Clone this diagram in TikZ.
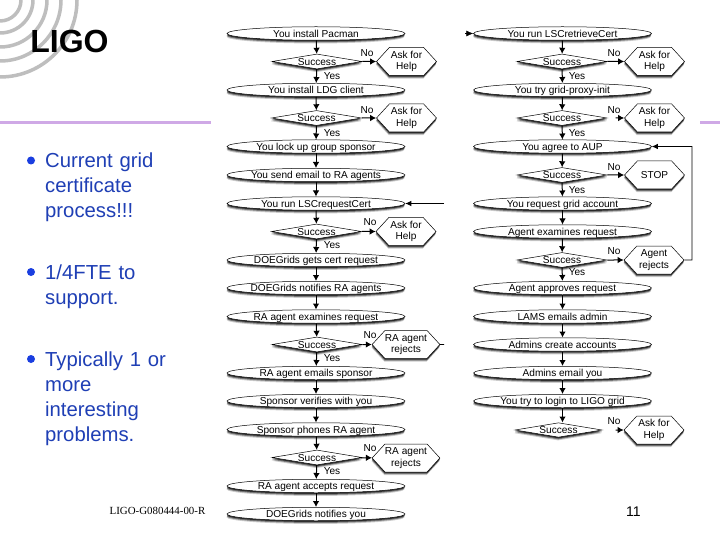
\documentclass[tikz,border=0pt]{standalone}
\usepackage{fontspec}
\setmainfont{Liberation Sans}
\newfontfamily\timesfnt{Liberation Serif}
\usetikzlibrary{shapes.geometric,shapes.symbols,shadows,arrows.meta}
\definecolor{rulec}{HTML}{CFA9E6}
\definecolor{bodyc}{HTML}{1F3FB5}
\definecolor{bulc}{HTML}{1A3EE0}
\definecolor{arcc}{HTML}{BEBEBE}
\tikzset{
  x=1pt,y=-1pt,
  shad/.style={general shadow={shadow xshift=-.5pt,shadow yshift=-3.2pt,fill=black,opacity=.2},
               general shadow={shadow xshift=-.3pt,shadow yshift=-2.2pt,fill=black,opacity=.4},
               general shadow={shadow xshift=0pt,shadow yshift=-1.2pt,fill=black,opacity=.6}},
  ell/.style={ellipse,draw=black,line width=.5pt,fill=white,shad,minimum width=178pt,minimum height=13.5pt,inner xsep=-30pt,inner ysep=-4pt,text height=7.2pt,text depth=0pt,font=\fontsize{10.1}{11}\selectfont},
  dia/.style={diamond,aspect=6,draw=black,line width=.5pt,fill=white,shad,minimum width=90pt,minimum height=15pt,inner sep=0pt,text height=7.2pt,text depth=0pt,font=\fontsize{10.1}{11}\selectfont},
  hexa/.style={signal,signal to=east and west,signal pointer angle=95,draw=black,line width=.5pt,fill=white,shad,minimum width=60pt,minimum height=28pt,inner sep=0pt,align=center,font=\fontsize{10.1}{11.5}\selectfont},
  flow/.style={draw=black,line width=1pt,-{Latex[length=6pt,width=6.5pt]}},
  yesno/.style={inner sep=0pt,font=\fontsize{10.1}{11}\selectfont},
  bodytxt/.style={anchor=north west,text width=130pt,align=left,inner sep=0pt,text=bodyc,font=\fontsize{20.3}{25}\selectfont},
  bullet/.style={circle,fill=bulc,minimum size=8pt,inner sep=0pt},
  ruleline/.style={draw=rulec,line width=3.5pt},
  arcl/.style={draw=arcc,line width=3.5pt},
}
\begin{document}
\begin{tikzpicture}
\useasboundingbox (0,0) rectangle (720,540);
\fill[white] (0,0) rectangle (720,540);
% logo arcs and rules
\begin{scope}
\clip (0,0) rectangle (90,90);
\foreach \r in {21,33,47,61,77} \draw[arcl] (\r,0) arc[start angle=0,end angle=90,radius=\r];
\end{scope}
\node[inner sep=0pt,font=\fontsize{32}{32}\selectfont\bfseries] (logo) at (69.5,41) {LIGO};
\coordinate (ra) at (0,122.5); \coordinate (rb) at (211,122.5);
\coordinate (rc) at (700,122.5); \coordinate (rd) at (720,122.5);
\draw[ruleline] (ra) -- (rb);
\draw[ruleline] (rc) -- (rd);
% left text
\node[bullet] (b1) at (31,160.5) {};
\node[bullet] (b2) at (31,272) {};
\node[bullet] (b3) at (31,359) {};
\node[bodytxt] (t1) at (45,152.5) {Current grid\\certificate\\process!!!};
\node[bodytxt] (t2) at (45,264.5) {1/4FTE to\\support.};
\node[bodytxt] (t3) at (45,351.5) {Typically 1 or\\more\\interesting\\problems.};
\node[inner sep=0pt,font=\fontsize{10.9}{12}\selectfont\timesfnt] (foot) at (157.5,511) {LIGO-G080444-00-R};
\node[inner sep=0pt,font=\fontsize{14}{14}\selectfont] (pg) at (633.5,512) {11};
% left column
\node[ell] (a1) at (316,33.5) {You install Pacman};
\node[dia] (ad1) at (317,61.5) {Success};
\node[hexa] (ah1) at (406.5,61.5) {Ask for\\Help};
\node[ell] (a2) at (316,90) {You install LDG client};
\node[dia] (ad2) at (316.5,118) {Success};
\node[hexa] (ah2) at (406.5,118) {Ask for\\Help};
\node[ell] (a3) at (316,146.5) {You lock up group sponsor};
\node[ell] (a4) at (316,175) {You send email to RA agents};
\node[ell] (a5) at (316,203.5) {You run LSCrequestCert};
\node[dia] (ad3) at (316.5,231.5) {Success};
\node[hexa] (ah3) at (406,231.5) {Ask for\\Help};
\node[ell] (a6) at (316,260) {DOEGrids gets cert request};
\node[ell] (a7) at (316,288) {DOEGrids notifies RA agents};
\node[ell] (a8) at (316,316.5) {RA agent examines request};
\node[dia] (ad4) at (317,344.5) {Success};
\node[hexa] (ah4) at (406,344.5) {RA agent\\rejects};
\node[ell] (a9) at (316,373) {RA agent emails sponsor};
\node[ell] (a10) at (316,401) {Sponsor verifies with you};
\node[ell] (a11) at (316,429.5) {Sponsor phones RA agent};
\node[dia] (ad5) at (317,457.5) {Success};
\node[hexa] (ah5) at (406,458) {RA agent\\rejects};
\node[ell] (a12) at (316,486) {RA agent accepts request};
\node[ell] (a13) at (316,514) {DOEGrids notifies you};
% right column
\node[ell] (c1) at (562.5,33.5) {You run LSCretrieveCert};
\node[dia] (cd1) at (562,61.5) {Success};
\node[hexa] (ch1) at (654.5,61.5) {Ask for\\Help};
\node[ell] (c2) at (562.5,90) {You try grid-proxy-init};
\node[dia] (cd2) at (562,118) {Success};
\node[hexa] (ch2) at (654.5,118) {Ask for\\Help};
\node[ell] (c3) at (562.5,146.5) {You agree to AUP};
\node[dia] (cd3) at (562,175) {Success};
\node[hexa] (ch3) at (654.5,175) {STOP};
\node[ell] (c4) at (562.5,203.5) {You request grid account};
\node[ell] (c5) at (562.5,231.5) {Agent examines request};
\node[dia] (cd4) at (562,260) {Success};
\node[hexa] (ch4) at (654,260) {Agent\\rejects};
\node[ell] (c6) at (562.5,288) {Agent approves request};
\node[ell] (c7) at (562.5,316.5) {LAMS emails admin};
\node[ell] (c8) at (562.5,344.5) {Admins create accounts};
\node[ell] (c9) at (562.5,373) {Admins email you};
\node[ell] (c10) at (562.5,401) {You try to login to LIGO grid};
\node[dia,minimum width=87pt,minimum height=14.5pt] (cd5) at (558.5,430) {Success};
\node[hexa] (ch5) at (654,430) {Ask for\\Help};
% vertical flows
\foreach \p/\q in {a1/ad1,ad1/a2,a2/ad2,ad2/a3,a3/a4,a4/a5,a5/ad3,ad3/a6,a6/a7,a7/a8,a8/ad4,ad4/a9,a9/a10,a10/a11,a11/ad5,ad5/a12,a12/a13,
  c1/cd1,cd1/c2,c2/cd2,cd2/c3,c3/cd3,cd3/c4,c4/c5,c5/cd4,cd4/c6,c6/c7,c7/c8,c8/c9,c9/c10}
  \draw[flow] (\p) -- (\q);
\draw[flow] (c10.south) -- (cd5.north -| c10.south);
% No arrows
\foreach \p/\q in {ad1/ah1,ad2/ah2,ad3/ah3,ad4/ah4,ad5/ah5,cd1/ch1,cd3/ch3,cd4/ch4}
  \draw[flow] (\p) -- (\q);
\coordinate (g2) at (615.5,118); \coordinate (g5) at (615.5,430);
\draw[flow] (g2) -- (ch2);
\draw[flow] (g5) -- (ch5);
% free and feedback connectors
\coordinate (f1) at (444,203.5);
\draw[line width=.8pt,-{Latex[length=6pt,width=5.5pt]}] (f1) -- (a5);
\coordinate (f2) at (444,344.5);
\draw[line width=.6pt] (ah4) -- (f2);
\coordinate (f3) at (465,33.5);
\draw[line width=.5pt,-{Latex[length=7pt,width=6pt]}] (f3) -- (c1);
\coordinate (k1) at (692,260); \coordinate (k2) at (692,146.5);
\draw[line width=.8pt,-{Latex[length=6pt,width=5.5pt]}] (ch4) -- (k1) -- (k2) -- (c3);
% labels
\foreach \x/\y/\n in {332/76/y1,332/133/y2,332/245/y3,332/358/y4,332/471/y5,577/76/y6,577/133/y7,577/190/y8,577/272/y9}
  \node[yesno] (\n) at (\x,\y) {Yes};
\foreach \x/\y/\n in {367/53/n1,367/110/n2,370/222/n3,370/335/n4,370/448/n5,614/53/n6,614/110/n7,614/167/n8,614/251/n9,614/421/n10}
  \node[yesno] (\n) at (\x,\y) {No};
\end{tikzpicture}
\end{document}
